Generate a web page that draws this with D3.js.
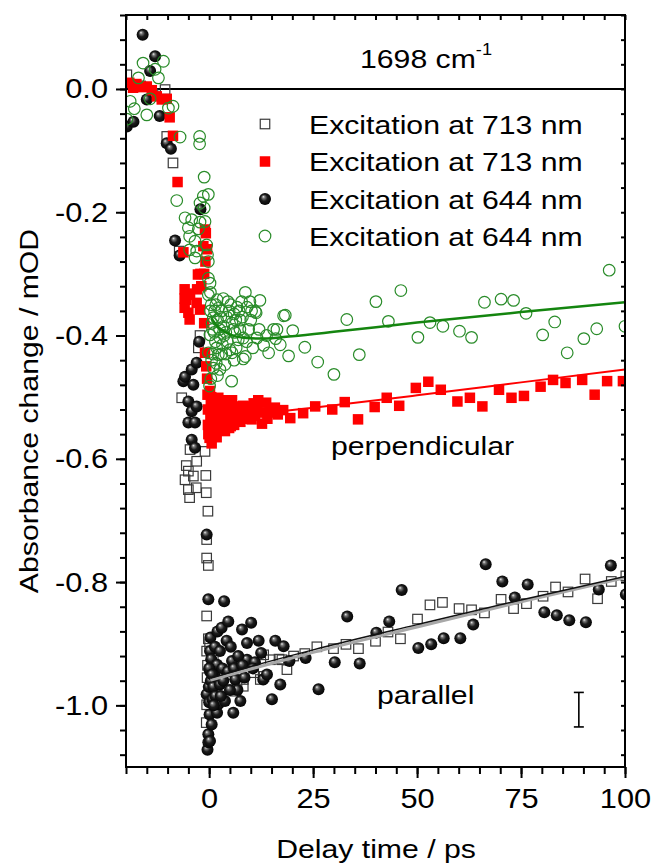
<!DOCTYPE html>
<html>
<head>
<meta charset="utf-8">
<script src="https://cdn.jsdelivr.net/npm/d3@7"></script>
<style>
  body { margin: 0; background: #fff; }
  text { font-family: "Liberation Sans", Arial, sans-serif; fill: #000; }
</style>
</head>
<body>
<div id="chart"></div>
<script>
// values: [delay / ps, absorbance change / mOD]
var par713 = [
  [-19.8,0.023],[-16.5,0.005],[-13.5,-0.008],[-10.6,-0.001],[-10.2,-0.077],[-8.7,-0.12],[-7.2,-0.263],
  [-6.6,-0.501],[-5.8,-0.634],[-5.5,-0.611],[-5.0,-0.62],[-5.0,-0.65],[-4.7,-0.663],[-4.6,-0.585],
  [-3.8,-0.628],[-3.1,-0.647],[-3.0,-0.604],[-2.6,-0.42],[-2.2,-0.40],[-1.0,-0.588],[-0.8,-0.627],
  [-0.7,-0.655],[-0.3,-0.685],[-0.6,-0.731],[-0.6,-0.761],[-0.2,-0.773],[-0.6,-0.855],[-0.2,-0.892],
  [-0.6,-0.912],[-0.5,-0.955],[-0.4,-0.935],[-0.6,-0.999],[-0.7,-1.028],
  [0.1,-0.90],[0.3,-0.97],[0.5,-0.94],[1.0,-0.92],[1.5,-0.96],[2.0,-0.985],[2.5,-0.95],[3.5,-0.975],
  [4.5,-0.96],[5.2,-0.95],[6.2,-0.977],[6.7,-0.963],[8.2,-0.958],[8.2,-0.969],[10.7,-0.947],[12.3,-0.958],
  [13.1,-0.918],[13.2,-0.953],[14.7,-0.926],[16.8,-0.925],[17.5,-0.926],[18.7,-0.942],[20.3,-0.92],
  [23.0,-0.916],[25.9,-0.905],[29.9,-0.908],[32.9,-0.901],[35.9,-0.908],[40.0,-0.896],[43.0,-0.881],
  [46.0,-0.892],[50.1,-0.86],[53.1,-0.837],[56.1,-0.833],[60.1,-0.843],[63.1,-0.845],[66.2,-0.85],
  [70.2,-0.828],[73.2,-0.843],[76.3,-0.835],[80.3,-0.823],[83.3,-0.808],[86.3,-0.816],[90.4,-0.795],
  [93.4,-0.827],[96.7,-0.799],[100.2,-0.79]
];
var perp713 = [
  [-19.2,0.010],[-18.3,0.002],[-17.5,0.008],[-16.2,0.003],[-15.0,0.004],[-13.8,-0.002],[-12.6,-0.012],
  [-11.4,-0.017],[-10.2,-0.016],[-9.5,-0.046],[-8.7,-0.076],[-7.6,-0.151],[-6.2,-0.265],
  [-5.9,-0.325],[-5.9,-0.34],[-5.9,-0.355],[-5.5,-0.342],[-5.4,-0.332],[-5.0,-0.363],[-4.7,-0.374],
  [-4.6,-0.334],[-3.0,-0.347],[-2.9,-0.325],[-2.7,-0.301],[-2.2,-0.358],[-2.1,-0.30],[-1.9,-0.32],
  [-1.4,-0.255],[-1.2,-0.30],[-1.2,-0.38],[-1.0,-0.228],[-0.9,-0.28],[-0.8,-0.234],[-0.5,-0.26],
  [-1.0,-0.428],[-0.7,-0.45],[-0.5,-0.47],[-0.4,-0.496],[-0.3,-0.52],[-0.3,-0.545],[-0.2,-0.56],
  [0.1,-0.566],[0.2,-0.49],[0.3,-0.53],[0.5,-0.50],[0.6,-0.575],[0.8,-0.545],[1.0,-0.515],[1.3,-0.555],
  [1.6,-0.525],[1.8,-0.565],[2.2,-0.501],[2.6,-0.535],[3.0,-0.545],[3.5,-0.52],[3.8,-0.555],[4.0,-0.51],
  [4.5,-0.535],[5.2,-0.547],[5.8,-0.52],[6.0,-0.545],[6.5,-0.53],[7.2,-0.525],[7.5,-0.54],[8.2,-0.514],
  [9.0,-0.53],[9.5,-0.515],[10.2,-0.536],[10.7,-0.51],[11.0,-0.53],[11.5,-0.52],[12.7,-0.543],
  [13.0,-0.525],[13.7,-0.509],[14.5,-0.525],[15.8,-0.517],[16.5,-0.528],[17.8,-0.521],[19.5,-0.534],
  [0.4,-0.51],[0.9,-0.525],[1.4,-0.54],[2.0,-0.515],[2.4,-0.55],[3.3,-0.505],[4.2,-0.525],[4.8,-0.55],
  [5.5,-0.505],[6.8,-0.515],[8.5,-0.535],[9.8,-0.52],[11.8,-0.505],[14.0,-0.535],[15.0,-0.52],
  [22.6,-0.526],[25.5,-0.515],[29.6,-0.52],[32.6,-0.508],[35.8,-0.536],[39.8,-0.516],[42.7,-0.501],
  [45.7,-0.514],[49.7,-0.485],[52.7,-0.475],[55.7,-0.488],[59.7,-0.507],[62.7,-0.501],[65.7,-0.515],
  [69.7,-0.488],[72.7,-0.501],[75.7,-0.498],[79.7,-0.483],[82.7,-0.472],[85.7,-0.477],[89.7,-0.472],
  [92.7,-0.496],[95.7,-0.474],[99.5,-0.474]
];
var par644 = [
  [-19.8,-0.061],[-18.2,-0.053],[-16.0,0.088],[-15.0,-0.017],[-14.2,0.029],[-13.0,0.053],[-11.9,-0.044],
  [-10.2,-0.088],[-9.2,-0.097],[-8.2,-0.246],[-7.1,-0.270],[-6.2,-0.474],[-5.8,-0.467],[-5.0,-0.507],
  [-5.0,-0.541],[-4.2,-0.455],[-4.2,-0.523],[-4.2,-0.569],[-3.8,-0.48],[-3.4,-0.541],[-3.4,-0.582],
  [-3.0,-0.444],[-3.0,-0.515],[-2.4,-0.41],[-2.1,-0.195],[-0.6,-0.723],
  [-0.6,-0.982],[-0.4,-1.072],[-0.2,-0.828],[-0.2,-1.047],[-0.2,-1.06],[-0.1,-0.97],[0.0,-0.995],
  [0.1,-1.015],[0.2,-0.912],[0.2,-0.945],[0.2,-1.058],[0.3,-0.89],[0.4,-0.96],[0.5,-0.925],[0.6,-1.031],
  [0.8,-0.99],[1.0,-0.97],[1.2,-0.95],[1.4,-0.905],[1.5,-0.985],[1.9,-0.934],[1.9,-1.012],[2.0,-0.88],
  [2.2,-0.998],[2.6,-0.912],[2.6,-0.966],[3.0,-0.874],[3.2,-0.94],[3.6,-0.831],[3.8,-0.993],[4.2,-0.895],
  [4.5,-0.945],[4.6,-0.864],[5.5,-0.928],[5.8,-1.012],[6.3,-0.958],[6.8,-0.975],[7.5,-0.993],[7.9,-0.877],
  [8.5,-0.955],[9.1,-0.899],[9.1,-0.926],[10.1,-0.866],[11.0,-0.93],[11.9,-0.895],[13.0,-0.958],
  [13.9,-0.95],[15.1,-0.99],[15.9,-0.895],[17.1,-0.966],[17.9,-0.904],[19.3,-0.928],
  [0.0,-0.94],[0.7,-0.95],[1.1,-1.0],[2.8,-0.985],[3.4,-0.96],[5.0,-0.975],[5.2,-0.905],[6.0,-0.94],
  [7.0,-0.92],[8.0,-0.935],[10.5,-0.94],[12.5,-0.915],
  [23.2,-0.923],[26.3,-0.974],[30.2,-0.93],[33.2,-0.856],[36.2,-0.932],[40.2,-0.882],[43.3,-0.864],
  [46.3,-0.813],[50.3,-0.907],[53.4,-0.901],[56.4,-0.891],[60.4,-0.891],[63.5,-0.869],[66.5,-0.771],
  [70.5,-0.799],[73.5,-0.825],[76.6,-0.804],[80.6,-0.849],[83.6,-0.854],[86.6,-0.862],[90.6,-0.865],
  [93.7,-0.812],[96.6,-0.773],[100.2,-0.82]
];
var perp644 = [
  [-19.8,-0.049],[-19.0,-0.02],[-18.0,-0.032],[-17.0,0.018],[-15.9,0.042],[-15.0,-0.042],[-14.2,-0.016],
  [-13.0,0.032],[-12.2,0.018],[-11.0,0.045],[-9.8,-0.031],[-8.7,-0.028],[-7.8,-0.181],[-7.0,-0.078],
  [-5.8,-0.209],[-5.0,-0.225],[-4.7,-0.239],[-4.7,-0.261],[-4.2,-0.212],[-3.4,-0.247],[-3.4,-0.274],
  [-3.0,-0.263],[-2.6,-0.227],[-2.3,-0.077],[-2.3,-0.089],[-2.2,-0.185],[-2.2,-0.216],[-1.4,-0.174],
  [-1.2,-0.143],[-1.2,-0.193],[-1.0,-0.215],[-0.6,-0.253],[-0.4,-0.269],[-0.2,-0.171],[-0.2,-0.28],
  [-0.2,-0.307],[-0.2,-0.334],[-0.2,-0.428],[0.1,-0.482],[0.2,-0.315],[0.2,-0.399],[0.3,-0.36],
  [0.4,-0.47],[0.5,-0.35],[0.6,-0.44],[0.8,-0.39],[1.0,-0.371],[1.0,-0.453],[1.3,-0.36],[1.5,-0.41],
  [1.9,-0.342],[2.0,-0.375],[2.2,-0.431],[2.5,-0.39],[2.6,-0.404],[2.6,-0.455],[3.0,-0.36],[3.0,-0.43],
  [3.2,-0.415],[3.5,-0.385],[3.8,-0.447],[4.0,-0.395],[4.5,-0.345],[4.8,-0.36],[5.0,-0.423],[5.4,-0.474],
  [5.5,-0.38],[5.5,-0.428],[6.0,-0.365],[6.2,-0.395],[6.5,-0.42],[6.7,-0.354],[7.0,-0.407],[7.5,-0.375],
  [7.8,-0.345],[8.2,-0.404],[8.2,-0.438],[8.7,-0.33],[8.7,-0.434],[9.1,-0.354],[9.5,-0.39],[9.8,-0.345],
  [10.0,-0.375],[10.5,-0.42],[11.1,-0.361],[11.3,-0.363],[11.5,-0.404],[12.0,-0.39],[12.2,-0.343],
  [13.1,-0.416],[13.8,-0.40],[14.3,-0.428],[15.5,-0.39],[16.0,-0.405],[16.3,-0.39],[17.1,-0.415],
  [17.9,-0.368],[18.3,-0.367],[19.1,-0.433],[20.1,-0.392],
  [0.3,-0.33],[0.7,-0.38],[1.2,-0.395],[1.6,-0.35],[1.8,-0.42],[2.3,-0.355],[2.8,-0.37],[3.4,-0.34],
  [3.6,-0.4],[4.2,-0.37],[4.4,-0.41],[5.2,-0.35],[5.8,-0.39],[6.4,-0.375],[7.2,-0.36],[7.4,-0.39],
  [8.0,-0.37],[9.0,-0.41],[10.2,-0.36],[0.9,-0.43],[1.7,-0.445],[4.0,-0.43],[2.0,-0.465],[6.0,-0.44],
  [23.0,-0.419],[26.1,-0.443],[30.0,-0.463],[33.1,-0.374],[36.1,-0.431],[40.1,-0.345],[43.1,-0.377],
  [46.1,-0.327],[50.2,-0.403],[53.1,-0.379],[56.2,-0.385],[60.2,-0.393],[63.1,-0.403],[66.2,-0.346],
  [70.2,-0.341],[73.2,-0.343],[76.2,-0.364],[80.2,-0.399],[83.1,-0.378],[86.1,-0.428],[90.1,-0.405],
  [93.2,-0.389],[96.2,-0.294],[100.0,-0.385]
];
// fitted curves
var fitPerp644 = [[0.5,-0.372],[2,-0.385],[4,-0.395],[6,-0.401],[9,-0.404],[13,-0.405],[20,-0.401],
  [30,-0.394],[50,-0.379],[75,-0.362],[100,-0.346]];
var fitPerp713 = [[0.5,-0.535],[10,-0.528],[25,-0.517],[50,-0.497],[75,-0.476],[100,-0.455]];
var fitPar713 = [[0.3,-0.959],[10,-0.941],[25,-0.914],[50,-0.873],[75,-0.832],[100,-0.793]];
var fitPar644 = [[0.3,-0.956],[10,-0.937],[25,-0.910],[50,-0.869],[75,-0.829],[100,-0.791]];
var errBar = [88.9, -1.007, 0.028];

var xMajor = [0, 25, 50, 75, 100];
var xMinor = d3.range(-20, 101, 5);
var yMajor = [0, -0.2, -0.4, -0.6, -0.8, -1.0];
var yMinor = d3.range(-27, 4).map(function(i) { return i * 0.04; });
var legendLabels = ["Excitation at 713 nm", "Excitation at 713 nm", "Excitation at 644 nm", "Excitation at 644 nm"];

var W = 654, H = 864;
var pLeft = 126, pRight = 625, pTop = 15, pBottom = 767;
var stretch = 1.14;   // the figure's font is wider than Arial

var x = d3.scaleLinear().domain([-20, 100]).range([pLeft, pRight]);
var y = d3.scaleLinear().domain([-1.1, 0.12]).range([pBottom, pTop]);

var svg = d3.select("#chart").append("svg")
    .attr("width", W)
    .attr("height", H);

var defs = svg.append("defs");
defs.append("clipPath").attr("id", "plot")
    .append("rect")
    .attr("x", pLeft).attr("y", pTop)
    .attr("width", pRight - pLeft).attr("height", pBottom - pTop);
var grad = defs.append("radialGradient").attr("id", "sphere")
    .attr("cx", "50%").attr("cy", "50%").attr("r", "55%")
    .attr("fx", "35%").attr("fy", "30%");
grad.append("stop").attr("offset", "0%").attr("stop-color", "#f2f2f2");
grad.append("stop").attr("offset", "20%").attr("stop-color", "#7a7a7a");
grad.append("stop").attr("offset", "50%").attr("stop-color", "#1c1c1c");
grad.append("stop").attr("offset", "100%").attr("stop-color", "#000");

// text helper: stretched horizontally like the original font
function label(px, py, txt, size, anchor, rot) {
    var t = svg.append("text")
        .attr("transform", "translate(" + px + "," + py + ")" + (rot ? " rotate(" + rot + ")" : "") + " scale(" + stretch + ",1)")
        .attr("font-size", size)
        .attr("text-anchor", anchor || "start")
        .text(txt);
    return t;
}

// zero line
svg.append("line")
    .attr("x1", pLeft).attr("x2", pRight)
    .attr("y1", y(0)).attr("y2", y(0))
    .attr("stroke", "#000").attr("stroke-width", 2);

var g = svg.append("g").attr("clip-path", "url(#plot)");

var sq = 9.5, rsq = 10.5, rs = 6, rc = 5.8;

// 713 nm parallel: open squares
g.selectAll(".sq").data(par713).enter().append("rect")
    .attr("x", function(d) { return x(d[0]) - sq / 2; })
    .attr("y", function(d) { return y(d[1]) - sq / 2; })
    .attr("width", sq).attr("height", sq)
    .attr("fill", "none")
    .attr("stroke", "#3a3a3a").attr("stroke-width", 1.2);

// 644 nm parallel: shaded spheres
g.selectAll(".sph").data(par644).enter().append("circle")
    .attr("cx", function(d) { return x(d[0]); })
    .attr("cy", function(d) { return y(d[1]); })
    .attr("r", rs)
    .attr("fill", "url(#sphere)");

// 713 nm perpendicular: red squares
g.selectAll(".rsq").data(perp713).enter().append("rect")
    .attr("x", function(d) { return x(d[0]) - rsq / 2; })
    .attr("y", function(d) { return y(d[1]) - rsq / 2; })
    .attr("width", rsq).attr("height", rsq)
    .attr("fill", "#ff0000");

// 644 nm perpendicular: open green circles
g.selectAll(".gc").data(perp644).enter().append("circle")
    .attr("cx", function(d) { return x(d[0]); })
    .attr("cy", function(d) { return y(d[1]); })
    .attr("r", rc)
    .attr("fill", "none")
    .attr("stroke", "#2a8c2a").attr("stroke-width", 1.2);

// fitted lines
var line = d3.line()
    .x(function(d) { return x(d[0]); })
    .y(function(d) { return y(d[1]); })
    .curve(d3.curveMonotoneX);

g.append("path").datum(fitPar713).attr("d", line)
    .attr("fill", "none").attr("stroke", "#a8a8a8").attr("stroke-width", 3);
g.append("path").datum(fitPar644).attr("d", line)
    .attr("fill", "none").attr("stroke", "#111").attr("stroke-width", 1.5);
g.append("path").datum(fitPerp713).attr("d", line)
    .attr("fill", "none").attr("stroke", "#ff0000").attr("stroke-width", 2);
g.append("path").datum(fitPerp644).attr("d", line)
    .attr("fill", "none").attr("stroke", "#14850f").attr("stroke-width", 2.5);

// error bar
var eb = svg.append("g").attr("stroke", "#000").attr("stroke-width", 1.6);
eb.append("line")
    .attr("x1", x(errBar[0])).attr("x2", x(errBar[0]))
    .attr("y1", y(errBar[1] + errBar[2])).attr("y2", y(errBar[1] - errBar[2]));
[errBar[1] + errBar[2], errBar[1] - errBar[2]].forEach(function(v) {
    eb.append("line")
        .attr("x1", x(errBar[0]) - 5).attr("x2", x(errBar[0]) + 5)
        .attr("y1", y(v)).attr("y2", y(v));
});

// axes
function styleAxis(sel) {
    sel.select(".domain").remove();
    sel.selectAll("line").attr("stroke", "#000").attr("stroke-width", 2);
}

var xAxisMajor = svg.append("g")
    .attr("transform", "translate(0," + pBottom + ")")
    .call(d3.axisBottom(x).tickValues(xMajor).tickSize(11).tickFormat(d3.format("d")));
styleAxis(xAxisMajor);
xAxisMajor.selectAll("text")
    .attr("font-size", 27)
    .attr("y", null).attr("dy", null)
    .attr("transform", "translate(0,41) scale(" + stretch + ",1)")
    .attr("font-family", "Liberation Sans, Arial, sans-serif")
    .attr("fill", "#000");

var xAxisMinor = svg.append("g")
    .attr("transform", "translate(0," + pBottom + ")")
    .call(d3.axisBottom(x).tickValues(xMinor).tickSize(7).tickFormat(""));
styleAxis(xAxisMinor);

var yAxisMajor = svg.append("g")
    .attr("transform", "translate(" + pLeft + ",0)")
    .call(d3.axisLeft(y).tickValues(yMajor).tickSize(10).tickFormat(d3.format(".1f")));
styleAxis(yAxisMajor);
yAxisMajor.selectAll("text")
    .attr("font-size", 27)
    .attr("x", null).attr("dy", null)
    .attr("transform", "translate(-18,9) scale(" + stretch + ",1)")
    .attr("font-family", "Liberation Sans, Arial, sans-serif")
    .attr("fill", "#000")
    .text(function(d) { return d3.format(".1f")(d).replace("−", "-"); });

var yAxisMinor = svg.append("g")
    .attr("transform", "translate(" + pLeft + ",0)")
    .call(d3.axisLeft(y).tickValues(yMinor).tickSize(6).tickFormat(""));
styleAxis(yAxisMinor);

// mirrored inner ticks on top and right
var topMinor = svg.append("g")
    .attr("transform", "translate(0," + pTop + ")")
    .call(d3.axisTop(x).tickValues(xMinor).tickSize(-5).tickFormat(""));
styleAxis(topMinor);
var rightMinor = svg.append("g")
    .attr("transform", "translate(" + pRight + ",0)")
    .call(d3.axisRight(y).tickValues(yMinor).tickSize(-4).tickFormat(""));
styleAxis(rightMinor);

// frame
svg.append("rect")
    .attr("x", pLeft).attr("y", pTop)
    .attr("width", pRight - pLeft).attr("height", pBottom - pTop)
    .attr("fill", "none").attr("stroke", "#000").attr("stroke-width", 2);

// legend
var legendY = [124, 161.5, 199, 236];
var lx = 265;
svg.append("rect").attr("x", lx - sq / 2).attr("y", legendY[0] - sq / 2).attr("width", sq).attr("height", sq)
    .attr("fill", "none").attr("stroke", "#3a3a3a").attr("stroke-width", 1.2);
svg.append("rect").attr("x", lx - rsq / 2).attr("y", legendY[1] - rsq / 2).attr("width", rsq).attr("height", rsq)
    .attr("fill", "#ff0000");
svg.append("circle").attr("cx", lx).attr("cy", legendY[2]).attr("r", rs).attr("fill", "url(#sphere)");
svg.append("circle").attr("cx", lx).attr("cy", legendY[3]).attr("r", rc)
    .attr("fill", "none").attr("stroke", "#2a8c2a").attr("stroke-width", 1.2);
legendLabels.forEach(function(s, i) {
    label(309, legendY[i] + 9.5, s, 26.5);
});

// annotations
var wn = label(360, 68, "1698 cm", 26.5);
wn.append("tspan").attr("font-size", 16).attr("dy", -13).text("-1");
label(331, 455, "perpendicular", 26.5);
label(377, 704, "parallel", 26.5);

// axis titles
label(376, 858, "Delay time / ps", 26.5, "middle");
label(38, 411, "Absorbance change / mOD", 26.5, "middle", -90);
</script>
</body>
</html>
